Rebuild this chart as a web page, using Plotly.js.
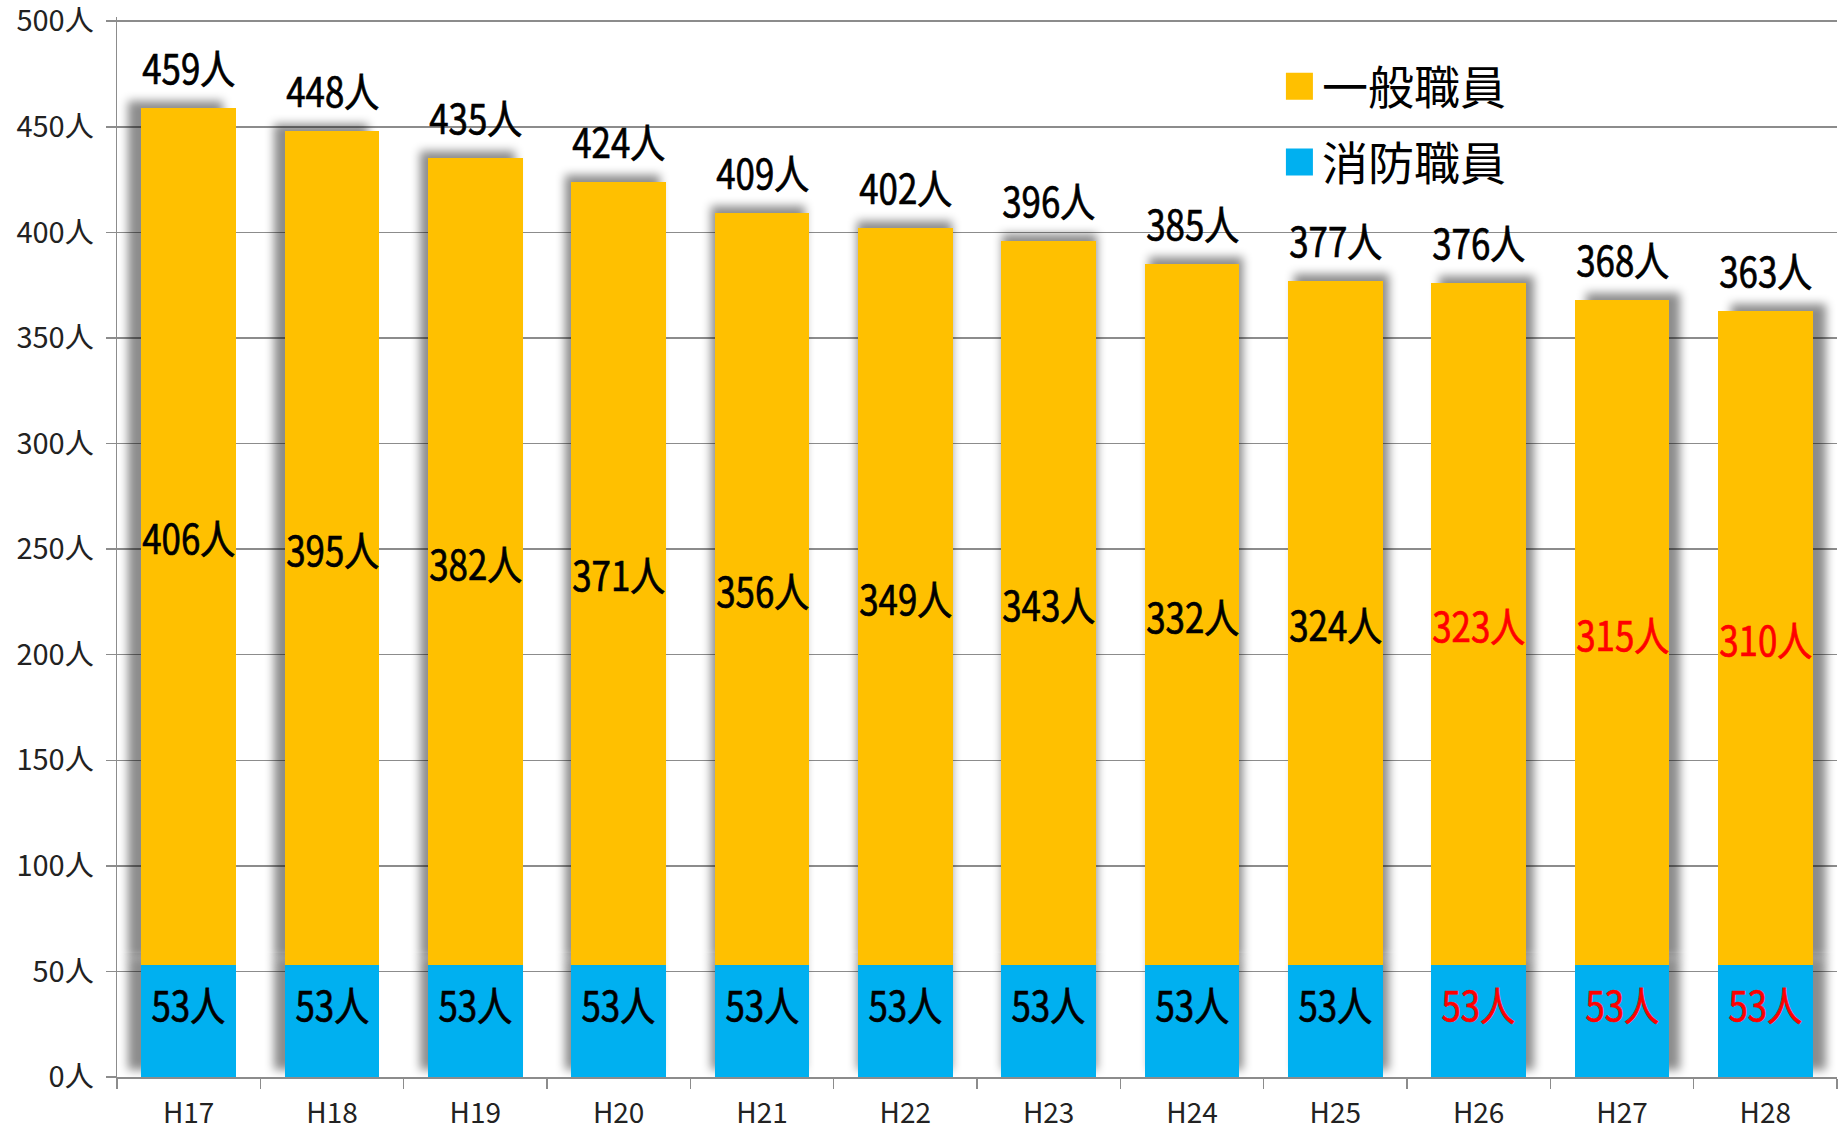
<!DOCTYPE html>
<html>
<head>
<meta charset="utf-8">
<script src="https://cdn.plot.ly/plotly-3.0.1.min.js"></script>
<style>
  html, body { margin: 0; padding: 0; background: #fff; }
  #chart { width: 1847px; height: 1133px; }
</style>
</head>
<body>
<div id="chart"></div>
<script>
const categories = ['H17','H18','H19','H20','H21','H22','H23','H24','H25','H26','H27','H28'];
const generalStaff = [406, 395, 382, 371, 356, 349, 343, 332, 324, 323, 315, 310];
const fireStaff = [53, 53, 53, 53, 53, 53, 53, 53, 53, 53, 53, 53];
const seriesNames = ['一般職員', '消防職員'];
const unit = '人';
const yTicks = [0, 50, 100, 150, 200, 250, 300, 350, 400, 450, 500];
const highlightFrom = 'H26';

const totals = categories.map((c, i) => generalStaff[i] + fireStaff[i]);
const hiIndex = categories.indexOf(highlightFrom);
const labelColor = i => (i >= hiIndex ? '#FF0000' : '#000000');

const labelFont = "'Noto Sans CJK JP', 'Noto Sans', sans-serif";
const tickFont = "'Noto Sans CJK JP', 'Noto Sans', sans-serif";
const gridColor = '#8c8c8c';

const traces = [
  {
    type: 'bar', name: seriesNames[1], x: categories, y: fireStaff,
    marker: { color: '#00B0F0', line: { width: 0 } },
    hoverinfo: 'skip', legendgroup: 'b', legendrank: 2
  },
  {
    type: 'bar', name: seriesNames[0], x: categories, y: generalStaff,
    marker: { color: '#FFC000', line: { width: 0 } },
    hoverinfo: 'skip', legendgroup: 'a', legendrank: 1
  }
];

const annotations = [];
categories.forEach((c, i) => {
  annotations.push({
    x: c, y: totals[i], xref: 'x', yref: 'y', text: totals[i] + unit,
    showarrow: false, yanchor: 'bottom', yshift: 10,
    font: { family: labelFont, size: 41, color: '#000' }
  });
  annotations.push({
    x: c, y: fireStaff[i] + generalStaff[i] / 2, xref: 'x', yref: 'y', text: generalStaff[i] + unit,
    showarrow: false, yanchor: 'middle',
    font: { family: labelFont, size: 41, color: labelColor(i) }
  });
  annotations.push({
    x: c, y: fireStaff[i] / 2, xref: 'x', yref: 'y', text: fireStaff[i] + unit,
    showarrow: false, yanchor: 'middle', yshift: 18,
    font: { family: labelFont, size: 41, color: labelColor(i) }
  });
});

const layout = {
  width: 1847, height: 1133,
  margin: { l: 117, r: 10, t: 17, b: 56 },
  paper_bgcolor: '#fff', plot_bgcolor: '#fff',
  barmode: 'stack', bargap: 0.34,
  showlegend: true,
  legend: {
    x: 0.6703, y: 0.969, xanchor: 'left', yanchor: 'top',
    traceorder: 'grouped', tracegroupgap: 13, itemwidth: 42,
    bgcolor: 'rgba(0,0,0,0)',
    font: { family: tickFont, size: 46, color: '#000' }
  },
  xaxis: {
    type: 'category', tickson: 'boundaries', ticks: 'outside', ticklen: 10,
    tickcolor: gridColor, tickwidth: 1.5,
    showline: true, linecolor: gridColor, linewidth: 1.5,
    showgrid: false, automargin: false, ticklabelstandoff: 11,
    ticklabeloverflow: 'allow',
    tickfont: { family: tickFont, size: 28, color: '#222' }
  },
  yaxis: {
    range: [0, 502], tickvals: yTicks, ticktext: yTicks.map(v => v + unit),
    ticks: 'outside', ticklen: 10, tickcolor: gridColor, tickwidth: 1.5,
    showline: true, linecolor: gridColor, linewidth: 1.5,
    showgrid: true, gridcolor: gridColor, gridwidth: 1.5,
    zeroline: false, automargin: false, ticklabelstandoff: 6,
    ticklabeloverflow: 'allow',
    tickfont: { family: tickFont, size: 29, color: '#222' }
  },
  annotations: annotations
};

const gd = document.getElementById('chart');
Plotly.newPlot(gd, traces, layout, { staticPlot: true, displayModeBar: false }).then(() => {
  const NS = 'http://www.w3.org/2000/svg';
  const svg = gd.querySelector('svg.main-svg');
  let defs = svg.querySelector('defs');
  if (!defs) { defs = document.createElementNS(NS, 'defs'); svg.insertBefore(defs, svg.firstChild); }
  const n = categories.length;
  for (let i = 0; i < n; i++) {
    const f = document.createElementNS(NS, 'filter');
    f.setAttribute('id', 'barshadow' + i);
    f.setAttribute('x', '-50%'); f.setAttribute('y', '-10%');
    f.setAttribute('width', '200%'); f.setAttribute('height', '120%');
    const dx = ((i - (n - 1) / 2) * 2.4).toFixed(2);
    f.innerHTML = '<feGaussianBlur in="SourceAlpha" stdDeviation="5"/>' +
      '<feOffset dx="' + dx + '" dy="-7" result="b"/>' +
      '<feFlood flood-color="#000" flood-opacity="0.45"/>' +
      '<feComposite in2="b" operator="in"/>' +
      '<feMerge><feMergeNode/><feMergeNode in="SourceGraphic"/></feMerge>';
    defs.appendChild(f);
  }
  gd.querySelectorAll('.barlayer .trace').forEach(tr => {
    tr.querySelectorAll('.point').forEach((pt, i) => {
      const p = pt.querySelector('path');
      if (p) p.setAttribute('filter', 'url(#barshadow' + i + ')');
    });
  });
  // condensed, slightly heavier look for data labels
  gd.querySelectorAll('text.annotation-text').forEach(t => {
    const bb = t.getBBox();
    const cx = bb.x + bb.width / 2;
    const prev = t.getAttribute('transform') || '';
    t.setAttribute('transform', prev + ' translate(' + cx + ',0) scale(0.85,1) translate(' + (-cx) + ',0)');
    t.style.stroke = t.style.fill;
    t.style.strokeWidth = '0.7px';
  });
  // larger legend squares (path keeps Plotly's own translate)
  gd.querySelectorAll('.legend .legendpoints path').forEach(p => {
    p.setAttribute('d', 'M17,13.5H-10V-13.5H17Z');
    p.style.strokeWidth = '0px';
  });
});
</script>
</body>
</html>
